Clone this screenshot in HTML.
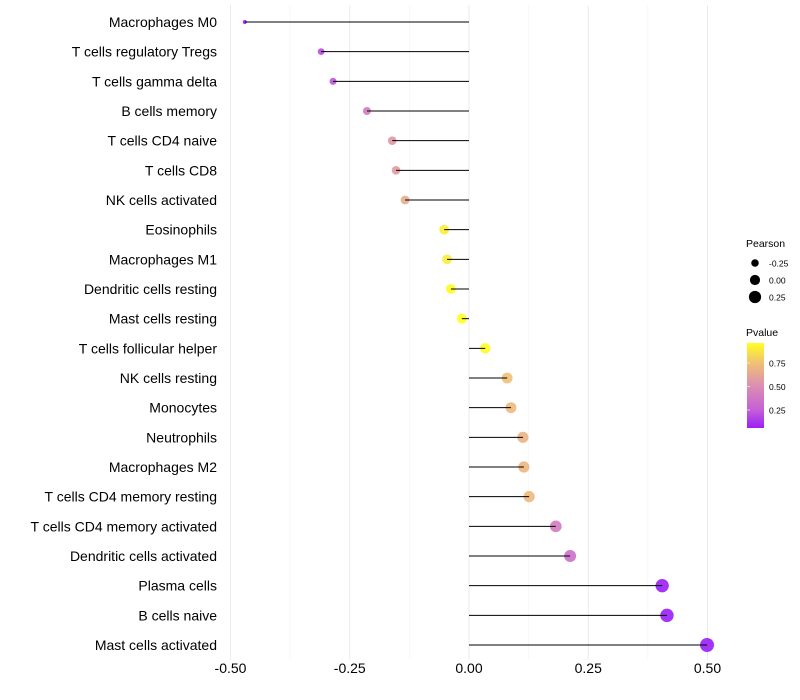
<!DOCTYPE html>
<html><head><meta charset="utf-8"><style>
body{margin:0;background:#fff;font-family:"Liberation Sans",sans-serif}
svg{display:block}
</style></head><body>
<svg id="chart" width="800" height="700">
<defs><linearGradient id="pg" x1="0" y1="1" x2="0" y2="0">
<stop offset="0" stop-color="#9a1ff6"/><stop offset="0.21" stop-color="#c45fd6"/><stop offset="0.5" stop-color="#dc8fb0"/><stop offset="0.77" stop-color="#f0c173"/><stop offset="1" stop-color="#ffff20"/></linearGradient></defs>
<g id="grid"></g><g id="marks"></g><g id="labels"></g>
<g font-size="10">
<text x="746" y="247" font-size="10.5">Pearson</text>
<g id="sizeleg"></g></g>
<g font-size="10">
<text x="746" y="336" font-size="10.5">Pvalue</text>
<rect x="747" y="343" width="17" height="85" fill="url(#pg)"/>
<g id="colleg"></g></g>
</svg>
<script>
const cells=["Macrophages M0","T cells regulatory  Tregs","T cells gamma delta","B cells memory","T cells CD4 naive","T cells CD8","NK cells activated","Eosinophils","Macrophages M1","Dendritic cells resting","Mast cells resting","T cells follicular helper","NK cells resting","Monocytes","Neutrophils","Macrophages M2","T cells CD4 memory resting","T cells CD4 memory activated","Dendritic cells activated","Plasma cells","B cells naive","Mast cells activated"];
const pearson=[-0.47,-0.31,-0.285,-0.214,-0.161,-0.153,-0.134,-0.052,-0.046,-0.038,-0.015,0.034,0.080,0.088,0.113,0.115,0.126,0.182,0.212,0.405,0.415,0.499];
const pvalue=[0.03,0.2,0.22,0.4,0.55,0.57,0.65,0.9,0.9,0.95,0.98,0.95,0.75,0.72,0.68,0.7,0.72,0.4,0.33,0.06,0.05,0.03];
const xTicks=[-0.5,-0.25,0,0.25,0.5];
const xTickLabels=["-0.50","-0.25","0.00","0.25","0.50"];
const sizeBreaks=[-0.25,0,0.25];
const sizeLabels=["-0.25","0.00","0.25"];
const colBreaks=[0.25,0.5,0.75];
const colLabels=["0.25","0.50","0.75"];
const NS="http://www.w3.org/2000/svg";
const X=v=>469+477*v;
const Y=i=>22+i*(623/21);
const R=v=>Math.sqrt(4+46.4*(v+0.47));
const stops=[[0,[154,31,246]],[0.21,[196,95,214]],[0.5,[220,143,176]],[0.77,[240,193,115]],[1,[255,255,32]]];
function col(p){let t=(p-0.06)/0.9;t=Math.max(0,Math.min(1,t));
for(let k=1;k<stops.length;k++){if(t<=stops[k][0]){const a=stops[k-1],b=stops[k];const f=(t-a[0])/(b[0]-a[0]);
return "rgb("+a[1].map((c,j)=>Math.round(c+(b[1][j]-c)*f)).join(",")+")";}}return "rgb(255,255,32)";}
function mk(tag,attrs,parent,text){const e=document.createElementNS(NS,tag);for(const k in attrs)e.setAttribute(k,attrs[k]);if(text!==undefined)e.textContent=text;parent.appendChild(e);return e;}
const grid=document.getElementById('grid'),marks=document.getElementById('marks'),labels=document.getElementById('labels');
for(let v=-0.5;v<=0.5001;v+=0.125){const g=mk('line',{x1:X(v),x2:X(v),y1:5,y2:660,stroke:Math.abs((v*4)%1)<1e-6?'#ebebeb':'#f4f4f4','stroke-width':Math.abs((v*4)%1)<1e-6?1:0.6},grid);

}
xTicks.forEach((v,i)=>{const t=mk('text',{x:X(v),y:673,'text-anchor':'middle','font-size':14,fill:'#000'},labels,xTickLabels[i]);

});
cells.forEach((c,i)=>{const y=Y(i);
const t=mk('text',{x:217,y:y+5,'text-anchor':'end','font-size':14,fill:'#000'},labels,c);


const p=mk('circle',{cx:X(pearson[i]),cy:y,r:R(pearson[i]),fill:col(pvalue[i]),'fill-opacity':0.9},marks);


const l=mk('line',{x1:X(pearson[i]),x2:X(0),y1:y,y2:y,stroke:'#000','stroke-width':1},marks);

});
const sl=document.getElementById('sizeleg');
sizeBreaks.forEach((v,i)=>{const y=263+i*17;
const c=mk('circle',{cx:755,cy:y,r:R(v),fill:'#000'},sl);


const t=mk('text',{x:769,y:y+3.5,'font-size':8.5},sl,sizeLabels[i]);

});
const cl=document.getElementById('colleg');
colBreaks.forEach((v,i)=>{const y=410-(v-0.25)*94;
const l=mk('line',{x1:747,x2:750,y1:y,y2:y,stroke:'#fff','stroke-width':0.6},cl);


const t=mk('text',{x:769,y:y+3.5,'font-size':8.5},cl,colLabels[i]);

});
</script>
</body></html>
